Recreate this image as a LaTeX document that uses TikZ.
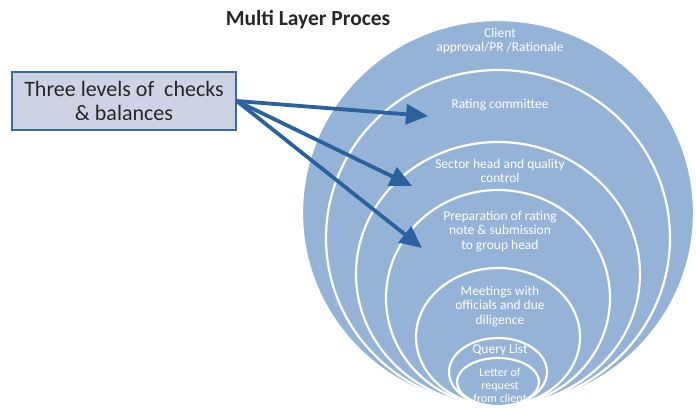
\documentclass[tikz,border=0pt]{standalone}
\usepackage{fontspec}
\setmainfont{Carlito}
\usetikzlibrary{arrows.meta,positioning}
\definecolor{LayerBlue}{RGB}{149,179,215}
\definecolor{ArrowBlue}{RGB}{42,98,158}
\definecolor{BoxLilac}{RGB}{205,211,229}
\definecolor{BoxEdge}{RGB}{62,104,155}
\definecolor{InkGrey}{RGB}{38,38,38}
\tikzset{
  layer/.style={fill=LayerBlue,draw=white,line width=2.2pt},
  lbl/.style={text=white,align=center,inner sep=0pt,
    font=\fontsize{13.5}{14.5}\selectfont},
  chkbox/.style={draw=BoxEdge,fill=BoxLilac,line width=1.6pt,align=center,
    minimum width=224pt,minimum height=58pt,inner sep=2pt,text=InkGrey,
    font=\fontsize{22}{24}\selectfont},
  pointer/.style={->,draw=ArrowBlue,line width=3.8pt}
}

\begin{document}
\begin{tikzpicture}[x=1pt,y=-1pt,>={Triangle[length=22pt,width=20pt]}]
      \useasboundingbox (0,0) rectangle (696,408);
      % nested layers, outermost first
      \foreach \cy/\rx/\ry in {213/196pt/193pt,238/172pt/168pt,274/142pt/132pt,
          298/112pt/108pt,337/82pt/69pt,372/49pt/34pt,382/41pt/24pt}
        \draw[layer] (498,\cy) ellipse [x radius=\rx,y radius=\ry];
      \node[font=\bfseries\fontsize{21.5}{23}\selectfont,text=InkGrey] (ttl) at (308,20) {Multi Layer Proces};
      \node[lbl] (appr) at (500,41) {Client\\approval/PR /Rationale};
      \node[lbl] (cmte) at (500,105) {Rating committee};
      \node[lbl] (sect) at (500,171) {Sector head and quality\\control};
      \node[lbl] (prep) at (500,231) {Preparation of rating\\note \& submission\\to group head};
      \node[lbl] (meet) at (500,306) {Meetings with\\officials and due\\diligence};
      \node[lbl] (qry) at (500,350) {Query List};
      \node[lbl,font=\fontsize{12}{13}\selectfont] (ltr) at (500,385) {Letter of\\request\\from client};
      \node[chkbox] (chk) at (124,101) {Three levels of\ \ checks\\\&\ balances};
      \coordinate (t1) at (428,116);
      \coordinate (t2) at (412,186);
      \coordinate (t3) at (422,248);
      \draw[pointer] (chk.east) -- (t1);
      \draw[pointer] (chk.east) -- (t2);
      \draw[pointer] (chk.east) -- (t3);
    \end{tikzpicture}
\end{document}
